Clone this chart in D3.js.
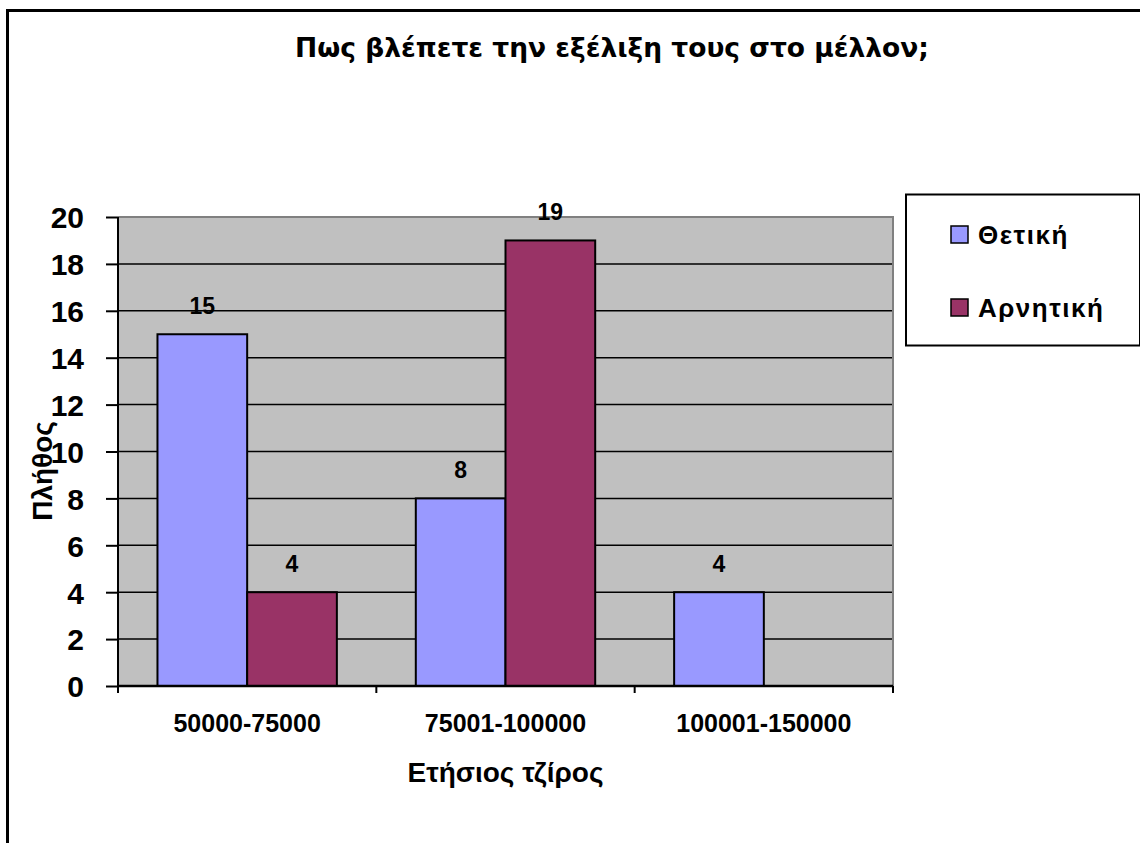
<!DOCTYPE html>
<html>
<head>
<meta charset="utf-8">
<script src="https://cdn.jsdelivr.net/npm/d3@7"></script>
<style>
  html, body { margin: 0; padding: 0; background: #fff; }
  svg { display: block; }
</style>
</head>
<body>
<svg id="chart" width="1140" height="843"></svg>
<script>
// Revenue brackets and survey answers
const categories = ["50000-75000", "75001-100000", "100001-150000"];
const seriesNames = ["Θετική", "Αρνητική"];
const positiveValues = [15, 8, 4];
const negativeValues = [4, 19, null];
const yTicks = [0, 2, 4, 6, 8, 10, 12, 14, 16, 18, 20];
const titleText = "Πως βλέπετε την εξέλιξη τους στο μέλλον;";
const xTitle = "Ετήσιος τζίρος";
const yTitle = "Πλήθος";

const colors = ["#9999FF", "#993366"];
const font = "'Liberation Sans', Arial, sans-serif";

const svg = d3.select("#chart");
const plot = { left: 118, right: 893, top: 217, bottom: 686 };

// Outer frame (extends past the right and bottom edges)
svg.append("rect")
  .attr("x", 7.5).attr("y", 10.5)
  .attr("width", 1200).attr("height", 900)
  .attr("fill", "none").attr("stroke", "#000").attr("stroke-width", 3);

const x = d3.scaleBand().domain(categories).range([plot.left, plot.right]).paddingInner(0).paddingOuter(0);
const inner = d3.scaleBand().domain(seriesNames).range([0, x.bandwidth()]).paddingInner(0).paddingOuter(0.44);
const y = d3.scaleLinear().domain([0, 20]).range([plot.bottom, plot.top]);

// Plot background
svg.append("rect")
  .attr("x", plot.left).attr("y", plot.top)
  .attr("width", plot.right - plot.left).attr("height", plot.bottom - plot.top)
  .attr("fill", "#C0C0C0");

// Gridlines
svg.append("g").selectAll("line")
  .data(yTicks.filter(d => d > 0 && d < 20))
  .join("line")
  .attr("x1", plot.left).attr("x2", plot.right)
  .attr("y1", d => y(d)).attr("y2", d => y(d))
  .attr("stroke", "#000").attr("stroke-width", 1.5);

// Plot border (top and right)
svg.append("path")
  .attr("d", `M${plot.left},${plot.top}H${plot.right}V${plot.bottom}`)
  .attr("fill", "none").attr("stroke", "#808080").attr("stroke-width", 2);

// Bars
const seriesData = [positiveValues, negativeValues];
seriesData.forEach((vals, si) => {
  const g = svg.append("g");
  const rows = categories.map((c, i) => ({ c, v: vals[i] })).filter(d => d.v != null);
  g.selectAll("rect")
    .data(rows)
    .join("rect")
    .attr("x", d => x(d.c) + inner(seriesNames[si]))
    .attr("y", d => y(d.v))
    .attr("width", inner.bandwidth())
    .attr("height", d => y(0) - y(d.v))
    .attr("fill", colors[si])
    .attr("stroke", "#000").attr("stroke-width", 2);
  g.selectAll("text")
    .data(rows)
    .join("text")
    .attr("x", d => x(d.c) + inner(seriesNames[si]) + inner.bandwidth() / 2)
    .attr("y", d => y(d.v) - 20)
    .attr("text-anchor", "middle")
    .attr("font-family", font).attr("font-weight", "bold").attr("font-size", 23)
    .attr("fill", "#000")
    .text(d => d.v);
});

// Y axis
const yAxis = d3.axisLeft(y).tickValues(yTicks).tickSize(12).tickPadding(22);
const yg = svg.append("g").attr("transform", `translate(${plot.left},0)`).call(yAxis);
yg.select(".domain").attr("d", `M0,${plot.top}V${plot.bottom + 7}`).attr("stroke", "#000").attr("stroke-width", 2);
yg.selectAll(".tick line").attr("stroke", "#000").attr("stroke-width", 2);
yg.selectAll(".tick text")
  .attr("font-family", font).attr("font-weight", "bold").attr("font-size", 30)
  .attr("fill", "#000").attr("dy", "0.36em");

// X axis: ticks at category boundaries
const xg = svg.append("g").attr("transform", `translate(0,${plot.bottom})`);
xg.append("line")
  .attr("x1", plot.left).attr("x2", plot.right)
  .attr("y1", 0).attr("y2", 0)
  .attr("stroke", "#000").attr("stroke-width", 2.5);
const boundaries = categories.map(c => x(c)).concat([x(categories[categories.length - 1]) + x.bandwidth()]);
xg.selectAll("line.tk").data(boundaries).join("line").attr("class", "tk")
  .attr("x1", d => d).attr("x2", d => d)
  .attr("y1", 0).attr("y2", 7)
  .attr("stroke", "#000").attr("stroke-width", 2);
xg.selectAll("text").data(categories).join("text")
  .attr("x", d => x(d) + x.bandwidth() / 2)
  .attr("y", 46)
  .attr("text-anchor", "middle")
  .attr("font-family", font).attr("font-weight", "bold").attr("font-size", 25)
  .attr("fill", "#000")
  .text(d => d);

// Axis titles
svg.append("text")
  .attr("x", (plot.left + plot.right) / 2).attr("y", 782)
  .attr("text-anchor", "middle")
  .attr("font-family", font).attr("font-weight", "bold").attr("font-size", 28)
  .text(xTitle);
svg.append("text")
  .attr("transform", `translate(52,471) rotate(-90)`)
  .attr("text-anchor", "middle")
  .attr("font-family", font).attr("font-weight", "bold").attr("font-size", 28)
  .text(yTitle);

// Chart title
svg.append("text")
  .attr("x", 612).attr("y", 57)
  .attr("text-anchor", "middle")
  .attr("font-family", "'DejaVu Sans', Verdana, sans-serif").attr("font-weight", "bold").attr("font-size", 26.5)
  .text(titleText);

// Legend
const legend = svg.append("g");
legend.append("rect")
  .attr("x", 906).attr("y", 194.5).attr("width", 234).attr("height", 151)
  .attr("fill", "#fff").attr("stroke", "#000").attr("stroke-width", 2);
seriesNames.forEach((name, i) => {
  const base = 244 + i * 73;
  legend.append("rect")
    .attr("x", 951).attr("y", base - 18).attr("width", 17).attr("height", 17)
    .attr("fill", colors[i]).attr("stroke", "#000").attr("stroke-width", 1.5);
  legend.append("text")
    .attr("x", 978).attr("y", base)
    .attr("font-family", font).attr("font-weight", "bold").attr("font-size", 26)
    .attr("letter-spacing", 1.5)
    .text(name);
});
</script>
</body>
</html>
